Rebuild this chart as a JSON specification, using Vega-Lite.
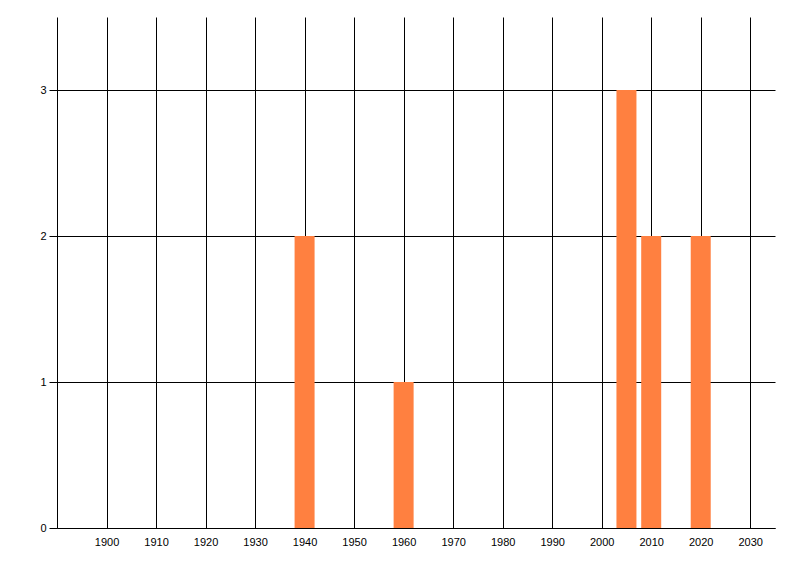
{
  "$schema": "https://vega.github.io/schema/vega-lite/v6.json",
  "autosize": {"type": "none"},
  "padding": {"left": 57, "top": 17, "right": 25, "bottom": 48},
  "width": 718,
  "height": 511,
  "background": "white",
  "config": {
    "view": {"stroke": null},
    "axis": {
      "labelFont": "Liberation Sans",
      "labelFontSize": 11,
      "labelColor": "#000000",
      "gridColor": "#000000",
      "gridOpacity": 1,
      "gridWidth": 1,
      "domainColor": "#000000",
      "domainWidth": 1,
      "tickColor": "#000000",
      "title": null
    }
  },
  "data": {
    "values": [
      {"year": 1940, "count": 2},
      {"year": 1960, "count": 1},
      {"year": 2005, "count": 3},
      {"year": 2010, "count": 2},
      {"year": 2020, "count": 2}
    ]
  },
  "mark": {"type": "bar", "width": 20, "color": "#ff8040"},
  "encoding": {
    "x": {
      "field": "year",
      "type": "quantitative",
      "scale": {"domain": [1890, 2035], "nice": false, "zero": false, "padding": 0},
      "axis": {
        "values": [1900, 1910, 1920, 1930, 1940, 1950, 1960, 1970, 1980, 1990, 2000, 2010, 2020, 2030],
        "format": "d",
        "grid": true,
        "ticks": false,
        "domain": true,
        "labelPadding": 8,
        "labelFlush": false
      }
    },
    "y": {
      "field": "count",
      "type": "quantitative",
      "scale": {"domain": [0, 3.5], "nice": false},
      "axis": {
        "values": [0, 1, 2, 3],
        "grid": true,
        "ticks": true,
        "tickSize": 8,
        "labelPadding": 3,
        "domain": true
      }
    }
  }
}
